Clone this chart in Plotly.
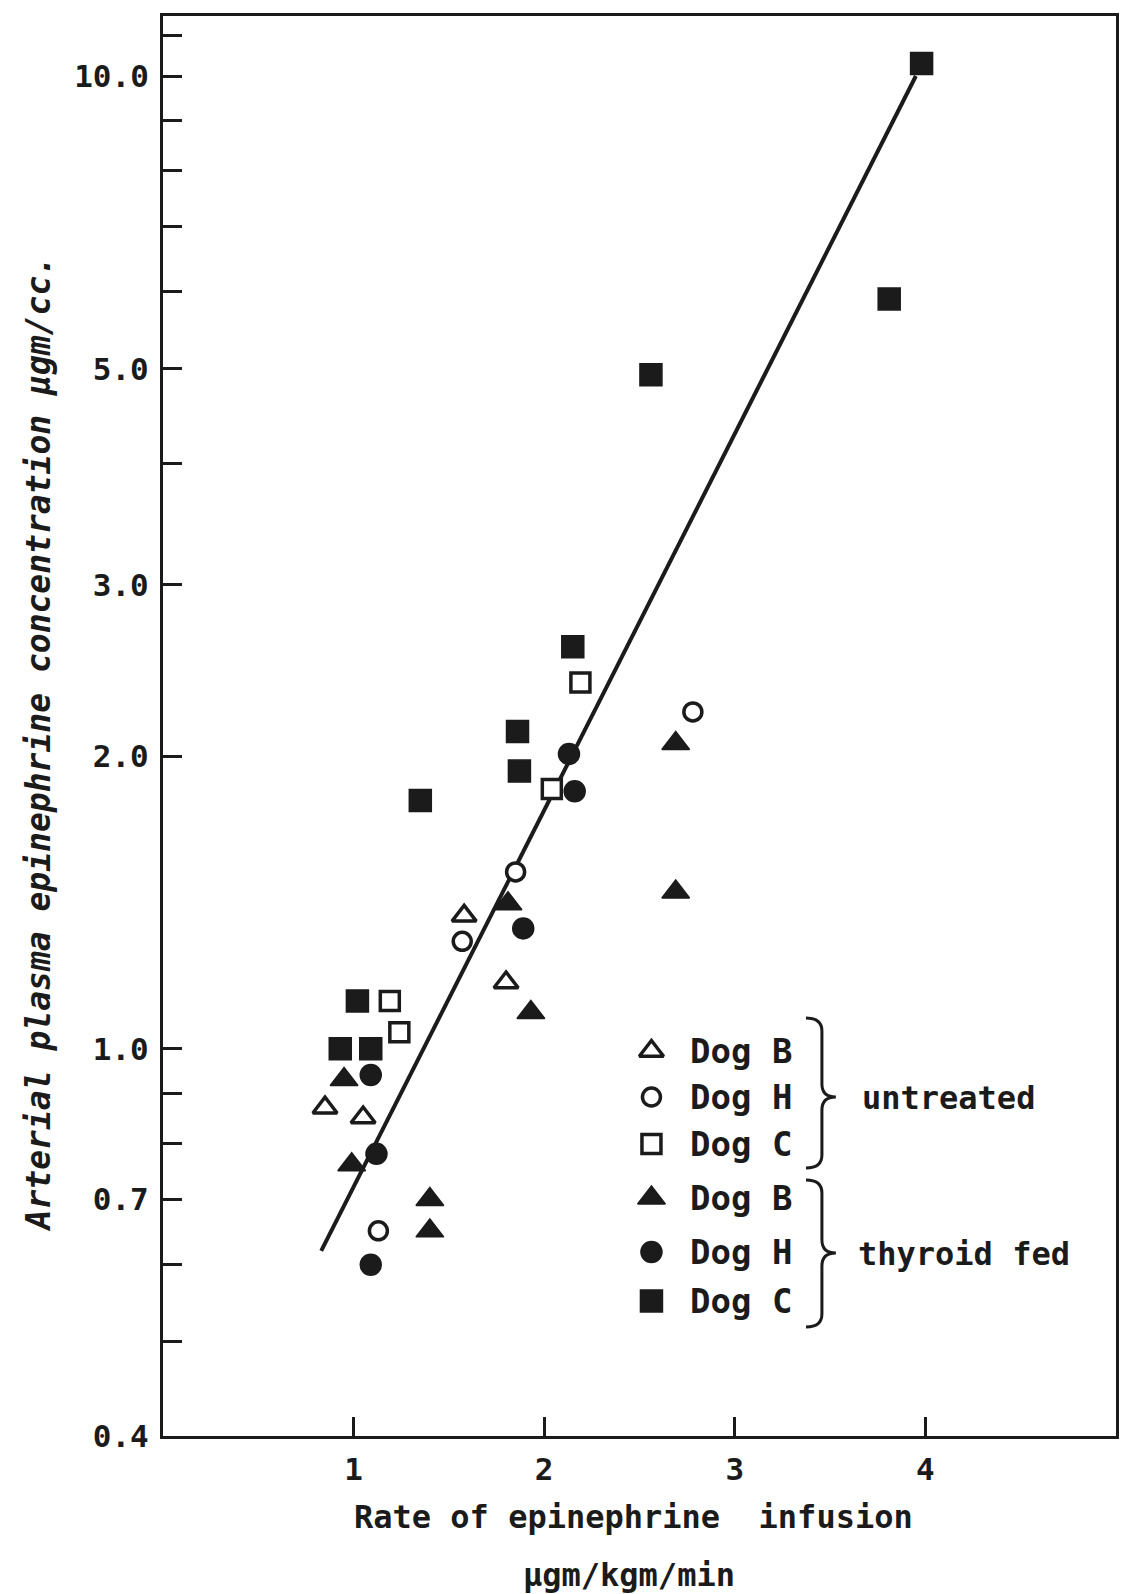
import math
import plotly.graph_objects as go

# Arterial plasma epinephrine (µgm/cc) against rate of infusion (µgm/kgm/min)
# Untreated dogs
dog_b_untreated_rate = [1.58, 1.80, 0.85, 1.05]
dog_b_untreated_conc = [1.37, 1.17, 0.87, 0.85]
dog_h_untreated_rate = [2.78, 1.85, 1.57, 1.13]
dog_h_untreated_conc = [2.22, 1.52, 1.29, 0.65]
dog_c_untreated_rate = [2.19, 2.04, 1.19, 1.24]
dog_c_untreated_conc = [2.38, 1.85, 1.12, 1.04]

# Thyroid-fed dogs
dog_b_thyroid_rate = [2.69, 2.69, 1.81, 1.93, 0.95, 0.99, 1.40, 1.40]
dog_b_thyroid_conc = [2.06, 1.45, 1.41, 1.09, 0.93, 0.76, 0.70, 0.65]
dog_h_thyroid_rate = [2.13, 2.16, 1.89, 1.09, 1.12, 1.09]
dog_h_thyroid_conc = [2.01, 1.84, 1.33, 0.94, 0.78, 0.60]
dog_c_thyroid_rate = [3.98, 3.81, 2.56, 2.15, 1.86, 1.87, 1.35, 1.02, 0.93, 1.09]
dog_c_thyroid_conc = [10.3, 5.9, 4.93, 2.59, 2.12, 1.93, 1.80, 1.12, 1.00, 1.00]

# Fitted regression line (end points)
fit_rate = [0.83, 3.95]
fit_conc = [0.62, 10.0]

x_tick_vals = [1, 2, 3, 4]
x_tick_text = ["1", "2", "3", "4"]
y_tick_vals = [0.4, 0.5, 0.6, 0.7, 0.8, 0.9, 1.0, 2.0, 3.0, 4.0,
               5.0, 6.0, 7.0, 8.0, 9.0, 10.0, 11.0]
y_tick_text = ["0.4", "", "", "0.7", "", "", "1.0", "2.0", "3.0", "",
               "5.0", "", "", "", "", "10.0", ""]

key_names = ["Dog B", "Dog H", "Dog C", "Dog B", "Dog H", "Dog C"]
group_names = ["untreated", "thyroid fed"]

# ---- page geometry (pixels) ----
FIG_W, FIG_H = 1126, 1594
L, R, T, B = 163, 1119, 16, 1436
PW, PH = R - L, B - T

INK = "#1b1b1b"
FONT = "DejaVu Sans Mono"
WEIGHT = "bold"


def px(xp):
    return (xp - L) / PW


def py(yp):
    return (B - yp) / PH


def open_marker(symbol, size):
    return dict(symbol=symbol, size=size, color="white",
                line=dict(color=INK, width=3.5))


def solid_marker(symbol, size):
    return dict(symbol=symbol, size=size, color=INK,
                line=dict(color=INK, width=1.5))


styles = [
    open_marker("triangle-up", 21),
    open_marker("circle", 18),
    open_marker("square", 19),
    solid_marker("triangle-up", 24),
    solid_marker("circle", 21),
    solid_marker("square", 22),
]

series = [
    (dog_b_untreated_rate, dog_b_untreated_conc),
    (dog_h_untreated_rate, dog_h_untreated_conc),
    (dog_c_untreated_rate, dog_c_untreated_conc),
    (dog_b_thyroid_rate, dog_b_thyroid_conc),
    (dog_h_thyroid_rate, dog_h_thyroid_conc),
    (dog_c_thyroid_rate, dog_c_thyroid_conc),
]

fig = go.Figure()

fig.add_trace(go.Scatter(x=fit_rate, y=fit_conc, mode="lines",
                         line=dict(color=INK, width=4),
                         hoverinfo="skip", showlegend=False))

for name, (xs, ys), mk in zip(key_names, series, styles):
    fig.add_trace(go.Scatter(x=xs, y=ys, mode="markers", name=name,
                             marker=mk, showlegend=False))

# ---- key: symbols on a pixel overlay, labels, braces ----
key_x = 653
text_x = 690
row_y = [1051, 1097, 1144, 1198, 1252, 1301]

for name, mk, yk in zip(key_names, styles, row_y):
    fig.add_trace(go.Scatter(x=[key_x], y=[yk], mode="markers",
                             marker=mk, xaxis="x2", yaxis="y2",
                             hoverinfo="skip", showlegend=False))

annotations = []
for name, yk in zip(key_names, row_y):
    annotations.append(dict(text=name, xref="paper", yref="paper",
                            x=px(text_x), y=py(yk), xanchor="left",
                            yanchor="middle", showarrow=False,
                            font=dict(family=FONT, size=34, color=INK,
                                      weight=WEIGHT)))


def brace_path(x_hook, x_stem, x_tip, y_top, y_mid, y_bot, r):
    p = lambda a, b: f"{px(a):.5f},{py(b):.5f}"
    return ("M " + p(x_hook, y_top)
            + " Q " + p(x_stem, y_top) + " " + p(x_stem, y_top + r)
            + " L " + p(x_stem, y_mid - r)
            + " Q " + p(x_stem, y_mid) + " " + p(x_tip, y_mid)
            + " Q " + p(x_stem, y_mid) + " " + p(x_stem, y_mid + r)
            + " L " + p(x_stem, y_bot - r)
            + " Q " + p(x_stem, y_bot) + " " + p(x_hook, y_bot))


braces = [
    dict(top=1018, mid=1097, bot=1168, label_x=862),
    dict(top=1180, mid=1253, bot=1327, label_x=858),
]
shapes = []
for br, label in zip(braces, group_names):
    shapes.append(dict(type="path", xref="paper", yref="paper",
                       path=brace_path(808, 824, 838, br["top"], br["mid"],
                                       br["bot"], 13),
                       line=dict(color=INK, width=3)))
    annotations.append(dict(text=label, xref="paper", yref="paper",
                            x=px(br["label_x"]), y=py(br["mid"] + 1),
                            xanchor="left", yanchor="middle", showarrow=False,
                            font=dict(family=FONT, size=32, color=INK,
                                      weight=WEIGHT)))

# ---- axis titles ----
annotations.append(dict(text="Arterial plasma epinephrine concentration μgm/cc.",
                        xref="paper", yref="paper", x=px(38), y=py(743),
                        xanchor="center", yanchor="middle", textangle=-90,
                        showarrow=False,
                        font=dict(family=FONT, size=33, color=INK,
                                  style="italic", weight=WEIGHT)))
annotations.append(dict(text="Rate of epinephrine\u00a0 infusion",
                        xref="paper", yref="paper", x=px(635), y=py(1517),
                        xanchor="center", yanchor="middle", showarrow=False,
                        font=dict(family=FONT, size=32, color=INK,
                                  weight=WEIGHT)))
annotations.append(dict(text="μgm/kgm/min",
                        xref="paper", yref="paper", x=px(630), y=py(1575),
                        xanchor="center", yanchor="middle", showarrow=False,
                        font=dict(family=FONT, size=32, color=INK,
                                  weight=WEIGHT)))

axis_common = dict(showline=True, linewidth=3, linecolor=INK, mirror=True,
                   ticks="inside", ticklen=19, tickwidth=3, tickcolor=INK,
                   showgrid=False, zeroline=False,
                   tickfont=dict(family=FONT, size=31, color=INK,
                                 weight=WEIGHT))

fig.update_layout(
    width=FIG_W, height=FIG_H,
    margin=dict(l=L, r=FIG_W - R, t=T, b=FIG_H - B),
    paper_bgcolor="white", plot_bgcolor="rgba(0,0,0,0)",
    showlegend=False,
    xaxis=dict(range=[0, 5], tickmode="array", tickvals=x_tick_vals,
               ticktext=x_tick_text, ticklabelstandoff=4, **axis_common),
    yaxis=dict(type="log", range=[math.log10(0.4), 1.0617],
               tickmode="array", tickvals=y_tick_vals, ticktext=y_tick_text,
               ticklabelstandoff=5, **axis_common),
    xaxis2=dict(overlaying="x", anchor="y2", range=[L, R], visible=False),
    yaxis2=dict(overlaying="y", anchor="x2", range=[B, T], visible=False),
    annotations=annotations,
    shapes=shapes,
)

fig.write_html("out.html")
